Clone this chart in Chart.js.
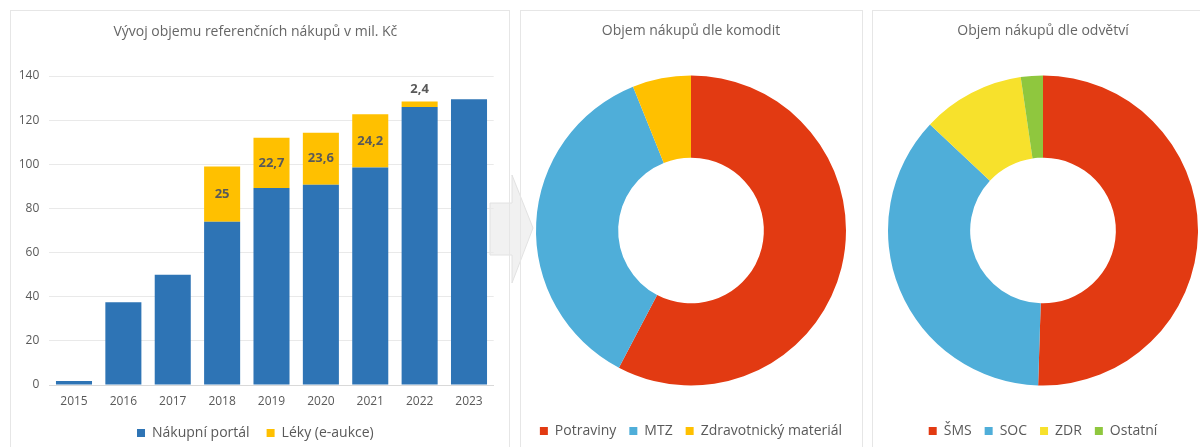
<!DOCTYPE html>
<html lang="cs">
<head>
<meta charset="utf-8">
<title>Referenční nákupy</title>
<script src="https://cdn.jsdelivr.net/npm/chart.js@4/dist/chart.umd.min.js"></script>
<style>
    html, body {
        margin: 0;
        padding: 0;
        width: 1200px;
        height: 447px;
        overflow: hidden;
        background: #fff;
    }
    .panel {
        position: absolute;
        top: 10px;
        height: 445px;
        border: 1px solid #E6E6E6;
        box-sizing: border-box;
    }
    .panel canvas {
        position: absolute;
        left: -1px;
        top: -1px;
    }
    #arrow {
        position: absolute;
        left: 0;
        top: 0;
    }
</style>
</head>
<body>

<svg id="arrow" width="1200" height="447">
    <polygon points="490,203 512,203 512,175 533,228 512,283 512,255 490,255"
             fill="#F1F1F1" stroke="#E2E2E2" stroke-width="1"/>
</svg>

<div class="panel" style="left:10px;width:500px;">
    <canvas id="trendChart" width="499" height="440"></canvas>
</div>
<div class="panel" style="left:520px;width:343px;">
    <canvas id="commodityChart" width="342" height="438"></canvas>
</div>
<div class="panel" style="left:872px;width:343px;">
    <canvas id="sectorChart" width="342" height="438"></canvas>
</div>

<script>
/* ==========================================
        Data
========================================== */

const years = ["2015", "2016", "2017", "2018", "2019", "2020", "2021", "2022", "2023"];
const portalValues = [1.8, 37.5, 50, 74, 89.3, 90.7, 98.5, 126, 129.5];
const lekyValues = [null, null, null, 25, 22.7, 23.6, 24.2, 2.4, null];
const yTicks = [0, 20, 40, 60, 80, 100, 120, 140];

const commodityLabels = ["Potraviny", "MTZ", "Zdravotnický materiál"];
const commodityValues = [57.7, 36.2, 6.1];

const sectorLabels = ["ŠMS", "SOC", "ZDR", "Ostatní"];
const sectorValues = [50.5, 36.5, 10.7, 2.3];

/* ==========================================
        Defaults
========================================== */

Chart.defaults.font.family = "'Open Sans', sans-serif";
Chart.defaults.color = "#595959";
Chart.defaults.animation = false;
Chart.defaults.plugins.tooltip.enabled = false;

const titleOpts = (text, top, bottom) => ({
    display: true,
    text: text,
    color: "#666",
    font: { size: 14, weight: "normal" },
    padding: { top: top, bottom: bottom }
});

const legendOpts = (pad) => ({
    position: "bottom",
    labels: {
        boxWidth: 8,
        boxHeight: 8,
        padding: pad,
        color: "#595959",
        font: { size: 14 }
    }
});

/* value labels for the "Léky" series */
const lekyLabels = {
    id: "lekyLabels",
    afterDatasetsDraw(chart) {
        const ctx = chart.ctx;
        const meta = chart.getDatasetMeta(1);
        ctx.save();
        ctx.font = "bold 13px 'Open Sans', sans-serif";
        ctx.fillStyle = "#595959";
        ctx.textAlign = "center";
        ctx.textBaseline = "middle";
        meta.data.forEach((bar, i) => {
            const v = lekyValues[i];
            if (v === null) return;
            const txt = String(v).replace(".", ",");
            const y = v > 5 ? (bar.y + bar.base) / 2 : bar.y - 12;
            ctx.fillText(txt, bar.x, y);
        });
        ctx.restore();
    }
};

/* ==========================================
        Bar chart
========================================== */

new Chart(document.getElementById("trendChart"), {
    type: "bar",
    data: {
        labels: years,
        datasets: [
            {
                label: "Nákupní portál",
                data: portalValues,
                backgroundColor: "#2E74B5"
            },
            {
                label: "Léky (e-aukce)",
                data: lekyValues,
                backgroundColor: "#FFC000"
            }
        ]
    },
    options: {
        responsive: false,
        layout: { padding: { left: 7, right: 15.3, top: 0, bottom: 0 } },
        datasets: {
            bar: { barPercentage: 0.73, categoryPercentage: 1 }
        },
        scales: {
            x: {
                stacked: true,
                grid: { display: false, drawTicks: false },
                border: { display: true, color: "#D9D9D9" },
                ticks: { padding: 9.6, font: { size: 12 }, color: "#595959" },
                afterFit: axis => { axis.height = 24; }
            },
            y: {
                stacked: true,
                min: yTicks[0],
                max: yTicks[yTicks.length - 1],
                afterBuildTicks: axis => {
                    axis.ticks = yTicks.map(v => ({ value: v }));
                },
                grid: { color: "#E9E9E9", drawTicks: false },
                border: { display: false },
                ticks: { padding: 10, font: { size: 12 }, color: "#595959" },
                afterFit: axis => { axis.width = 32.3; }
            }
        },
        plugins: {
            title: titleOpts("Vývoj objemu referenčních nákupů v mil. Kč", 13.6, 35.6),
            legend: legendOpts(17)
        }
    },
    plugins: [lekyLabels]
});

/* ==========================================
        Doughnuts
========================================== */

new Chart(document.getElementById("commodityChart"), {
    type: "doughnut",
    data: {
        labels: commodityLabels,
        datasets: [{
            data: commodityValues,
            backgroundColor: ["#E23A12", "#4FAED9", "#FFC000"],
            borderWidth: 0
        }]
    },
    options: {
        responsive: false,
        radius: 155,
        cutout: "47%",
        plugins: {
            title: titleOpts("Objem nákupů dle komodit", 12.6, 10.6),
            legend: legendOpts(13)
        }
    }
});

new Chart(document.getElementById("sectorChart"), {
    type: "doughnut",
    data: {
        labels: sectorLabels,
        datasets: [{
            data: sectorValues,
            backgroundColor: ["#E23A12", "#4FAED9", "#F7E12C", "#8FC73E"],
            borderWidth: 0
        }]
    },
    options: {
        responsive: false,
        radius: 155,
        cutout: "47%",
        plugins: {
            title: titleOpts("Objem nákupů dle odvětví", 12.6, 10.6),
            legend: legendOpts(13)
        }
    }
});
</script>
</body>
</html>
